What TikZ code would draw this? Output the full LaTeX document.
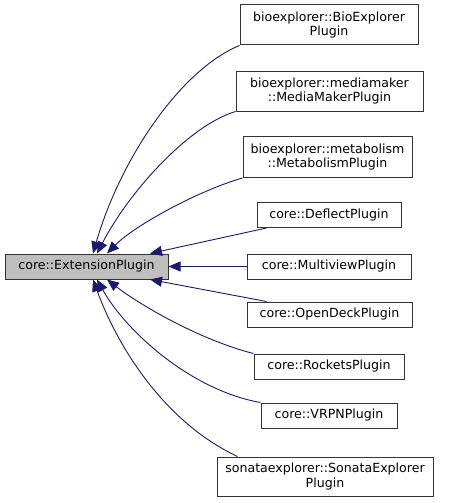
\documentclass[tikz,border=0pt]{standalone}
\usepackage{fontspec}
\setmainfont{DejaVu Sans}
\usepackage{xcolor}
\usetikzlibrary{positioning,arrows.meta}
\definecolor{edgeblue}{HTML}{191970}
\definecolor{basegray}{HTML}{BFBFBF}
\tikzset{
  cls/.style={draw=black!80, line width=1pt, align=center, inner sep=1pt,
    font=\fontsize{12.6}{14.5}\selectfont, minimum height=25pt},
  inh/.style={draw=edgeblue, line width=0.9pt,
    -{Triangle[length=12pt,width=10pt,fill=edgeblue]}}
}

\begin{document}
\begin{tikzpicture}[x=1pt,y=-1pt]
  \useasboundingbox (0,0) rectangle (448,503);
  \node[cls, fill=basegray, minimum width=163pt] (base) at (86.5,266.5) {core::ExtensionPlugin};

  \node[cls, minimum width=178pt, minimum height=40pt] (bio) at (329,25) {bioexplorer::BioExplorer\\Plugin};
  \node[cls, minimum width=187pt, minimum height=40pt] (media) at (329.5,91) {bioexplorer::mediamaker\\::MediaMakerPlugin};
  \node[cls, minimum width=169pt, minimum height=41pt] (metab) at (327.5,157) {bioexplorer::metabolism\\::MetabolismPlugin};
  \node[cls, minimum width=144pt] (deflect) at (329,215) {core::DeflectPlugin};
  \node[cls, minimum width=164pt] (multiview) at (329,266.5) {core::MultiviewPlugin};
  \node[cls, minimum width=165pt] (opendeck) at (329.5,314.5) {core::OpenDeckPlugin};
  \node[cls, minimum width=150pt] (rockets) at (329,366.5) {core::RocketsPlugin};
  \node[cls, minimum width=136pt] (vrpn) at (329,415.5) {core::VRPNPlugin};
  \node[cls, minimum width=216pt, minimum height=39pt] (sonata) at (325,476.5) {sonataexplorer::SonataExplorer\\Plugin};

  % inheritance edges
  \draw[inh] (bio.south west) .. controls (180,70) and (120,160) .. ([xshift=6.5pt]base.north);
  \draw[inh] (media.south west) .. controls (190,125) and (130,190) .. ([xshift=10.5pt]base.north);
  \draw[inh] (metab.south west) .. controls (200,190) and (135,225) .. ([xshift=20.5pt]base.north);
  \draw[inh] ([xshift=10pt]deflect.south west) -- ([xshift=63.5pt]base.north);
  \draw[inh] (multiview.west) -- (base.east);
  \draw[inh] ([xshift=20pt]opendeck.north west) -- ([xshift=63.5pt]base.south);
  \draw[inh] (rockets.north west) .. controls (200,340) and (140,305) .. ([xshift=20.5pt]base.south);
  \draw[inh] (vrpn.north west) .. controls (190,390) and (125,330) .. ([xshift=10.5pt]base.south);
  \draw[inh] ([xshift=21pt]sonata.north west) .. controls (160,420) and (115,340) .. ([xshift=6.5pt]base.south);
\end{tikzpicture}
\end{document}
